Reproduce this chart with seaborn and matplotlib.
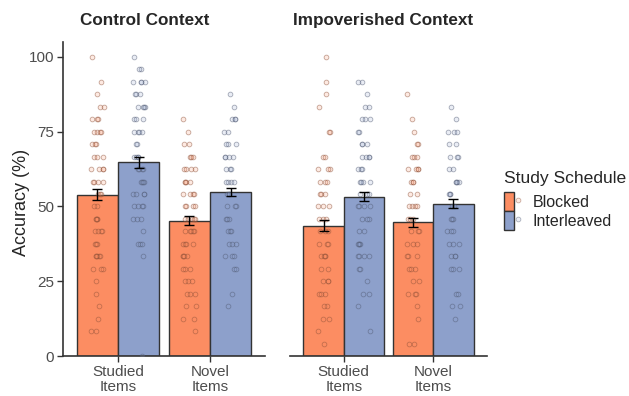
import matplotlib
matplotlib.use("Agg")
import matplotlib.pyplot as plt
import matplotlib.colors as mcolors
from matplotlib.patches import Patch
from matplotlib.lines import Line2D
from matplotlib.legend_handler import HandlerTuple
import numpy as np
import pandas as pd
import seaborn as sns

sns.set_style("white")
plt.rcParams['font.family'] = ['Liberation Sans', 'DejaVu Sans']

contexts = ["Control Context", "Impoverished Context"]
item_types = ["Studied\nItems", "Novel\nItems"]
schedules = ["Blocked", "Interleaved"]
palette = ["#FC8D62", "#8DA0CB"]
n_items = 24

# condition means and SEs (%): studied-blocked, studied-interleaved, novel-blocked, novel-interleaved
control_means = [54.0, 64.8, 45.2, 54.8]
control_se = [1.9, 1.8, 1.5, 1.45]
impov_means = [43.6, 53.3, 44.8, 50.9]
impov_se = [1.8, 1.6, 1.5, 1.5]

# individual participant scores (items correct out of 24)
ctrl_studied_blocked = [24, 22, 21, 20, 20, 19, 19, 19, 18, 18, 18, 18, 17, 17, 17, 16, 16, 16,
                        15, 15, 15, 15, 14, 14, 14, 14, 13, 13, 13, 12, 12, 11, 11, 11, 11, 10,
                        10, 10, 10, 9, 9, 9, 8, 8, 8, 8, 8, 7, 7, 7, 6, 5, 4, 3, 2, 2]
ctrl_studied_inter = [24, 23, 23, 22, 22, 22, 22, 21, 21, 21, 20, 20, 20, 20, 19, 19, 19, 18,
                      18, 18, 18, 17, 17, 16, 16, 16, 16, 15, 15, 15, 15, 14, 14, 14, 14, 13,
                      13, 13, 13, 12, 12, 12, 12, 11, 11, 11, 10, 9, 9, 9, 8, 0]
ctrl_novel_blocked = [19, 18, 17, 17, 16, 16, 16, 15, 15, 15, 15, 14, 14, 14, 14, 13, 13, 13,
                      13, 12, 12, 12, 12, 11, 11, 11, 11, 11, 10, 10, 10, 10, 10, 9, 9, 9, 9,
                      8, 8, 8, 8, 7, 7, 7, 6, 6, 6, 5, 5, 5, 4, 4, 3, 3, 2]
ctrl_novel_inter = [21, 20, 19, 19, 19, 18, 18, 17, 17, 17, 16, 16, 16, 16, 15, 15, 15, 14, 14,
                    14, 14, 13, 13, 13, 12, 12, 12, 11, 11, 11, 10, 10, 10, 9, 9, 9, 8, 8, 8,
                    7, 7, 5, 4]
impov_studied_blocked = [24, 22, 21, 20, 18, 18, 16, 16, 15, 15, 15, 14, 14, 14, 13, 13, 13, 12,
                         12, 12, 11, 11, 11, 10, 10, 10, 9, 9, 9, 8, 8, 8, 8, 7, 7, 6, 6, 6, 5,
                         5, 5, 4, 4, 3, 3, 2, 1]
impov_studied_inter = [22, 22, 21, 20, 20, 19, 19, 19, 18, 18, 17, 17, 17, 16, 16, 16, 16, 15,
                       15, 15, 14, 14, 14, 14, 13, 13, 13, 12, 12, 12, 12, 11, 11, 11, 10, 10,
                       9, 9, 9, 9, 8, 8, 8, 8, 7, 7, 6, 5, 5, 4, 2]
impov_novel_blocked = [21, 19, 18, 17, 17, 16, 16, 16, 15, 15, 15, 15, 14, 14, 14, 13, 13, 12,
                       12, 12, 12, 11, 11, 11, 10, 10, 10, 9, 9, 9, 8, 8, 8, 7, 7, 7, 6, 6, 5,
                       5, 5, 4, 3, 1, 1]
impov_novel_inter = [20, 19, 18, 18, 18, 17, 17, 16, 16, 16, 15, 15, 14, 14, 14, 14, 13, 13, 13,
                     12, 12, 11, 11, 11, 10, 10, 10, 9, 9, 9, 8, 8, 8, 7, 7, 7, 5, 5, 4, 4, 3]

scores = {
    contexts[0]: [ctrl_studied_blocked, ctrl_studied_inter, ctrl_novel_blocked, ctrl_novel_inter],
    contexts[1]: [impov_studied_blocked, impov_studied_inter, impov_novel_blocked, impov_novel_inter],
}
summary = {contexts[0]: (control_means, control_se), contexts[1]: (impov_means, impov_se)}
cells = [(item, sched) for item in item_types for sched in schedules]

# build long tables
rows, srows = [], []
for ctx in contexts:
    means, ses = summary[ctx]
    for (item, sched), vals, m, se in zip(cells, scores[ctx], means, ses):
        for v in vals:
            rows.append({"context": ctx, "item": item, "schedule": sched,
                         "acc": v / n_items * 100})
        srows.append({"context": ctx, "item": item, "schedule": sched, "mean": m, "se": se})
points = pd.DataFrame(rows)
bars = pd.DataFrame(srows)

np.random.seed(7)
fig = plt.figure(figsize=(6.29, 3.96), dpi=100)
ax1 = fig.add_axes([63 / 629, 40 / 396, 202 / 629, 314 / 396])
ax2 = fig.add_axes([290 / 629, 40 / 396, 197 / 629, 314 / 396])

dark = "#333333"
for ax, ctx in zip([ax1, ax2], contexts):
    b = bars[bars.context == ctx]
    p = points[points.context == ctx]
    sns.barplot(data=b, x="item", y="mean", hue="schedule", order=item_types,
                hue_order=schedules, palette=palette, width=0.9, edgecolor=dark,
                linewidth=1.0, errorbar=None, legend=False, saturation=1, ax=ax)
    # error bars at bar centres
    for patch in ax.patches:
        h = patch.get_height()
        row = b.iloc[(b["mean"] - h).abs().argmin()]
        ax.errorbar(patch.get_x() + patch.get_width() / 2, h, yerr=row["se"],
                    color="black", capsize=3.3, elinewidth=1.0, capthick=1.0, zorder=5)
    n_before = len(ax.collections)
    sns.stripplot(data=p, x="item", y="acc", hue="schedule", order=item_types,
                  hue_order=schedules, palette=palette, dodge=True, jitter=0.14,
                  size=3.4, linewidth=0.6, legend=False, ax=ax, zorder=3)
    for coll in ax.collections[n_before:]:
        off = coll.get_offsets()
        if len(off) == 0:
            continue
        fc = np.array(coll.get_facecolors()[0])
        ec = fc.copy()
        ec[:3] = fc[:3] * 0.55
        ec[3] = 0.5
        fc[3] = 0.18
        coll.set_facecolor(fc)
        coll.set_edgecolor(ec)
        # nudge dodge to line up with 0.9-wide bars
        d = off[:, 0] - np.round(off[:, 0])
        off[:, 0] = off[:, 0] + np.sign(d) * 0.025
        coll.set_offsets(off)

    ax.set_xlim(-0.6, 1.6)
    ax.set_ylim(0, 105)
    ax.set_xlabel("")
    ax.set_ylabel("")
    ax.set_xticks(range(len(item_types)))
    ax.set_xticklabels(item_types, linespacing=1.1)
    ax.tick_params(axis="x", colors=dark, labelcolor="#4D4D4D", labelsize=11,
                   length=4, width=1, pad=2.5, bottom=True)
    for s in ["top", "right"]:
        ax.spines[s].set_visible(False)
    ax.spines["bottom"].set_color(dark)
    ax.spines["bottom"].set_linewidth(1.2)

ax1.set_yticks([0, 25, 50, 75, 100])
ax1.tick_params(axis="y", colors=dark, labelcolor="#4D4D4D", labelsize=11,
                length=4, width=1, pad=2.5, left=True)
ax1.spines["left"].set_color(dark)
ax1.spines["left"].set_linewidth(1.2)
ax2.spines["left"].set_visible(False)
ax2.set_yticks([])

fig.text(22 / 629, 0.49, "Accuracy (%)", rotation=90, ha="center", va="center", fontsize=13)
fig.text(145 / 629, 0.949, contexts[0], ha="center", va="center", fontsize=12.3,
         fontweight="bold")
fig.text(383 / 629, 0.949, contexts[1], ha="center", va="center", fontsize=12.3,
         fontweight="bold")

handles = []
for c in palette:
    dc = tuple(np.array(mcolors.to_rgb(c)) * 0.55)
    handles.append((Patch(facecolor=c, edgecolor=dark, linewidth=1.0),
                    Line2D([], [], marker="o", ls="", markersize=3.4,
                           markerfacecolor=mcolors.to_rgba(c, 0.18),
                           markeredgecolor=dc + (0.45,), markeredgewidth=0.6)))
leg = fig.legend(handles, schedules, title="Study Schedule", loc="upper left",
                 bbox_to_anchor=(504 / 629, 225 / 396), frameon=False, fontsize=11.5,
                 title_fontsize=12.6, handlelength=1.19, handleheight=1.45,
                 handletextpad=0.6, labelspacing=0.0, borderpad=0, borderaxespad=0,
                 alignment="left", numpoints=1,
                 handler_map={tuple: HandlerTuple(ndivide=None, pad=0)})
# a little air between the legend title and the keys
leg._legend_box.sep = 4.5

fig.savefig("out.png", dpi=100)
